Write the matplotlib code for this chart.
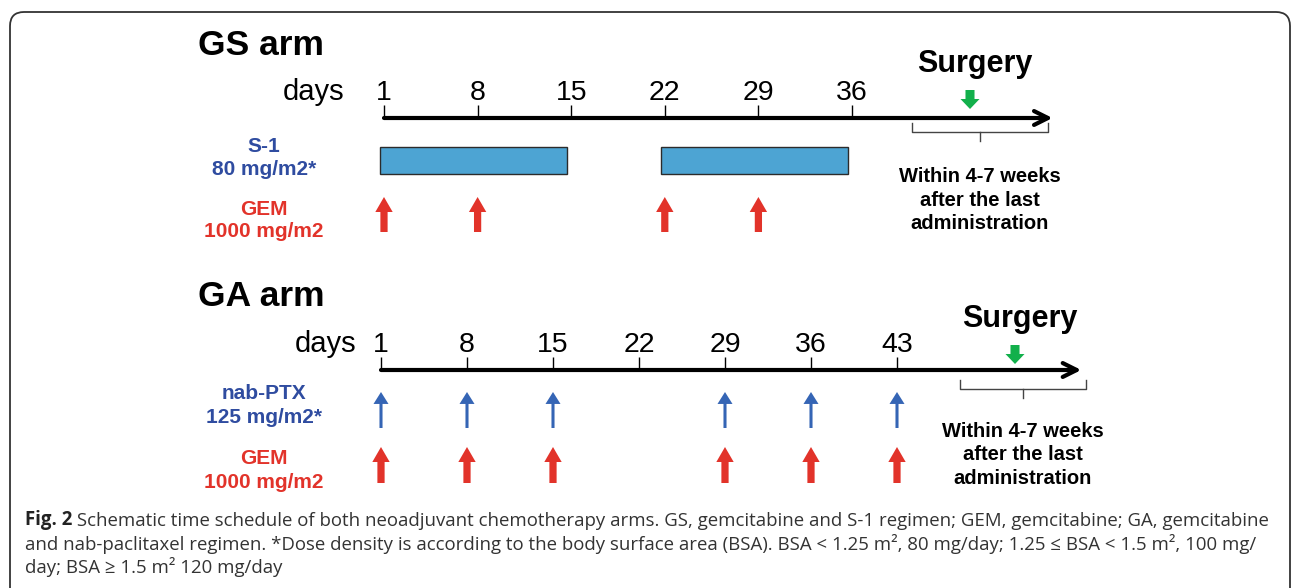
import matplotlib
matplotlib.use("Agg")
import matplotlib.pyplot as plt
from matplotlib.patches import FancyBboxPatch

# ---- data -------------------------------------------------------------
gs_days = [1, 8, 15, 22, 29, 36]
gs_s1_start = [1, 22]
gs_s1_end = [15, 36]
gs_gem_days = [1, 8, 22, 29]

ga_days = [1, 8, 15, 22, 29, 36, 43]
ga_ptx_days = [1, 8, 15, 29, 36, 43]
ga_gem_days = [1, 8, 15, 29, 36, 43]

gap_lines = ["Within 4-7 weeks", "after the last", "administration"]
caption_lines = [
    "Schematic time schedule of both neoadjuvant chemotherapy arms. GS, gemcitabine and S-1 regimen; GEM, gemcitabine; GA, gemcitabine",
    "and nab-paclitaxel regimen. *Dose density is according to the body surface area (BSA). BSA < 1.25 m\u00b2, 80 mg/day; 1.25 \u2264 BSA < 1.5 m\u00b2, 100 mg/",
    "day; BSA \u2265 1.5 m\u00b2 120 mg/day",
]

# ---- colours / fonts --------------------------------------------------
BLUE_TXT = "#2f4ca0"
RED = "#e2332a"
BLUE_ARR = "#3565b5"
BAR = "#4da4d3"
GREEN = "#12b04b"
SANS = ["Liberation Sans", "DejaVu Sans"]
CAP = ["Open Sans", "DejaVu Sans"]

W, H = 1292, 588
fig = plt.figure(figsize=(W / 100, H / 100), dpi=100)

# base axes in pixel units (y downwards)
ax = fig.add_axes([0, 0, 1, 1])
ax.set_xlim(0, W)
ax.set_ylim(H, 0)
ax.set_axis_off()

ax.add_patch(FancyBboxPatch((10, 12), 1280, 600,
                            boxstyle="round,pad=0,rounding_size=14",
                            fc="white", ec="#333333", lw=1.3))


def day_axes(x_day1, px_per_day):
    # overlay axes: x in days, y in pixels
    a = fig.add_axes([0, 0, 1, 1])
    a.set_xlim(1 - x_day1 / px_per_day, 1 + (W - x_day1) / px_per_day)
    a.set_ylim(H, 0)
    a.set_axis_off()
    a.patch.set_alpha(0)
    return a


def up_arrow(a, x, tip, base, color, tail, head_w, head_l):
    a.annotate("", xy=(x, tip), xytext=(x, base),
               arrowprops=dict(arrowstyle=f"simple,head_length={head_l},"
                               f"head_width={head_w},tail_width={tail}",
                               color=color, lw=0, shrinkA=0, shrinkB=0,
                               mutation_scale=10))


def arm(a, title, title_y, days_x, days, line_y, axis_end,
        surg_x, surg_y, br_x0, br_x1, br_y, txt_x, txt_y):
    ax.text(198, title_y, title, fontsize=25.5, fontweight="bold",
            family=SANS, va="baseline", ha="left")
    ax.text(days_x, line_y - 18, "days", fontsize=21, family=SANS,
            va="baseline", ha="right")
    # timeline
    a.annotate("", xy=(axis_end, line_y), xytext=(days[0], line_y),
               arrowprops=dict(arrowstyle="->,head_length=1.0,head_width=0.5",
                               lw=3.0, color="black", shrinkA=0, shrinkB=0,
                               mutation_scale=10))
    a.vlines(days, line_y - 13, line_y, color="black", lw=1.0)
    for d in days:
        a.text(d, line_y - 18, str(d), fontsize=20.5, family=SANS,
               va="baseline", ha="center")
    # surgery
    ax.text(surg_x, surg_y, "Surgery", fontsize=22, fontweight="bold",
            family=SANS, va="baseline", ha="center")
    up_arrow(ax, surg_x - 5, surg_y + 37, surg_y + 18, GREEN, 0.65, 1.37, 0.72)
    mid = (br_x0 + br_x1) / 2
    ax.plot([br_x0, br_x0, br_x1, br_x1], [br_y, br_y + 9, br_y + 9, br_y],
            color="#444444", lw=1.0)
    ax.plot([mid, mid], [br_y + 9, br_y + 18], color="#444444", lw=1.0)
    for i, s in enumerate(gap_lines):
        ax.text(txt_x, txt_y + i * 23.5, s, fontsize=14.5, fontweight="bold",
                family=SANS, va="baseline", ha="center")


def label(y1, t1, y2, t2, color):
    ax.text(264, y1, t1, fontsize=15, fontweight="bold", family=SANS,
            color=color, va="baseline", ha="center")
    ax.text(264, y2, t2, fontsize=15, fontweight="bold", family=SANS,
            color=color, va="baseline", ha="center")


# ---- GS arm -----------------------------------------------------------
ax_gs = day_axes(384, 468 / 35)
arm(ax_gs, "GS arm", 55, 344, gs_days, 118, 51.0,
    975, 72, 912, 1048, 123, 980, 182)
for s, e in zip(gs_s1_start, gs_s1_end):
    ax_gs.barh(160.5, e - s, left=s - 0.3, height=27, color=BAR,
               edgecolor="#2b2b2b", lw=1.0)
for d in gs_gem_days:
    up_arrow(ax_gs, d, 197, 232, RED, 0.52, 1.25, 1.08)
label(152, "S-1", 175, "80 mg/m2*", BLUE_TXT)
label(215, "GEM", 237, "1000 mg/m2", RED)

# ---- GA arm -----------------------------------------------------------
ax_ga = day_axes(381, 516 / 42)
arm(ax_ga, "GA arm", 306, 356, ga_days, 370, 58.0,
    1020, 327, 960, 1086, 380, 1023, 437)
for d in ga_ptx_days:
    up_arrow(ax_ga, d, 392, 428, BLUE_ARR, 0.22, 1.08, 0.86)
for d in ga_gem_days:
    up_arrow(ax_ga, d, 447, 483, RED, 0.52, 1.25, 1.08)
label(399, "nab-PTX", 423, "125 mg/m2*", BLUE_TXT)
label(464, "GEM", 488, "1000 mg/m2", RED)

# ---- caption ----------------------------------------------------------
cap_size = 13.45
fig_lbl = ax.text(25, 525, "Fig. 2", fontsize=cap_size, fontweight="bold",
                  family=CAP, va="baseline", ha="left", color="#222222")
ax.annotate(" " + caption_lines[0], xy=(1, 0), xycoords=fig_lbl,
            va="bottom", ha="left", fontsize=cap_size, family=CAP,
            color="#333333")
for i, line in enumerate(caption_lines[1:]):
    ax.text(25, 550 + i * 23, line, fontsize=cap_size, family=CAP,
            va="baseline", ha="left", color="#333333")

fig.savefig("out.png", dpi=100)
